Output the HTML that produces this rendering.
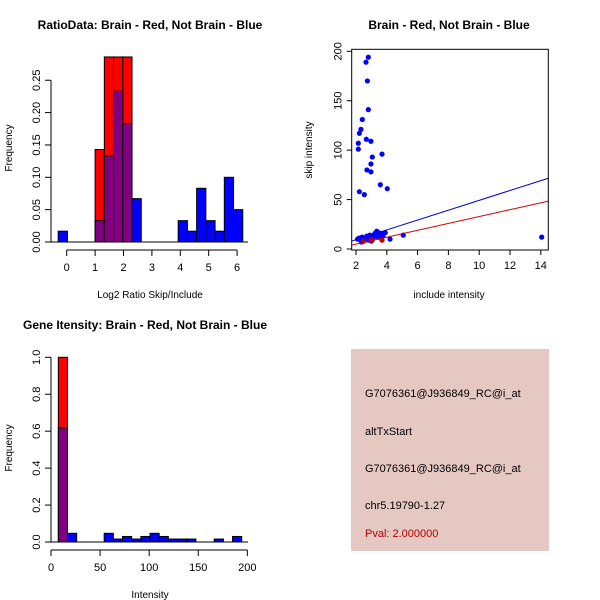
<!DOCTYPE html>
<html><head><meta charset="utf-8"><style>
body{margin:0;background:#fff}
svg{display:block;font-family:"Liberation Sans",sans-serif}
</style></head><body>
<svg id="c" width="600" height="600" viewBox="0 0 600 600">
<rect width="600" height="600" fill="#fff"/>
<g id="p1"></g>
<g id="p2"></g>
<g id="p3"></g>
<g>
<rect x="351" y="349" width="198" height="202" fill="#E6C8C2"/>
<text x="365" y="397" font-size="11" fill="#000">G7076361@J936849_RC@i_at</text>
<text x="365" y="435" font-size="11" fill="#000">altTxStart</text>
<text x="365" y="472" font-size="11" fill="#000">G7076361@J936849_RC@i_at</text>
<text x="365" y="509" font-size="11" fill="#000">chr5.19790-1.27</text>
<text x="365" y="537" font-size="11" fill="#B00000">Pval: 2.000000</text>
</g>
</svg>
<script>
// ---- Panel 1 data ----
const p1BinStart = -0.3, p1BinWidth = 0.325;
const p1RedBins = [4,5,6,7];
const p1RedVals = [0.143,0.286,0.286,0.286];
const p1BlueBins = [0,4,5,6,7,8,13,14,15,16,17,18,19];
const p1BlueVals = [0.0167,0.033,0.133,0.233,0.183,0.067,0.033,0.0167,0.083,0.033,0.0167,0.1,0.05];
const p1XTicks = [0,1,2,3,4,5,6];
const p1YTicks = ["0.00","0.05","0.10","0.15","0.20","0.25"];
// ---- Panel 2 data ----
const p2BlueX = [2.80,2.65,2.74,2.80,2.41,2.32,2.22,2.15,2.15,2.67,2.97,3.06,2.97,3.69,2.71,2.97,3.58,4.03,2.22,2.54,14.06,5.07,4.21,3.9,
 2.1,2.2,2.3,2.4,2.5,2.6,2.7,2.8,2.9,3.0,3.1,3.2,3.3,3.4,3.5,3.6,2.35,2.55,2.75,2.95,3.15,3.35,3.55,3.75,2.85,3.05,3.25,3.45];
const p2BlueY = [194,189,170,141,131,121,117,107,101,111,109,93,86,96,80,78,65,61,58,55,12,14,10,16.5,
 10,11,9,12,8,10,13,9,14,8,11,15,13,17,12,16,7,9,11,12,14,18,15,13,10,9,16,12];
const p2RedX = [3.69,2.5,3.0];
const p2RedY = [9,8,9];
const p2BlueLine = [4.98,-0.57];
const p2RedLine = [3.48,-2.0];
const p2XTicks = [2,4,6,8,10,12,14];
const p2YTicks = [0,50,100,150,200];
// ---- Panel 3 data ----
const p3BinStart = 7.47, p3BinWidth = 9.34;
const p3RedBins = [0];
const p3RedVals = [1.0];
const p3BlueBins = [0,1,5,6,7,8,9,10,11,12,13,14,17,19];
const p3BlueVals = [0.617,0.047,0.047,0.016,0.03,0.016,0.03,0.047,0.03,0.016,0.016,0.016,0.016,0.03];
const p3XTicks = [0,50,100,150,200];
const p3YTicks = ["0.0","0.2","0.4","0.6","0.8","1.0"];

const NS="http://www.w3.org/2000/svg";
function mk(parent,tag,attrs,txt){const e=document.createElementNS(NS,tag);for(const k in attrs)e.setAttribute(k,attrs[k]);if(txt!==undefined)e.textContent=txt;parent.appendChild(e);return e;}

function histogram(g,cfg){
  const {sx,sy,binStart,binWidth,redBins,redVals,blueBins,blueVals,xTicks,yTicks,yTickVals,title,titleX,xlab,ylab,ylabX,xAxisY,yAxisX,xlabY,baseX0,baseX1}=cfg;
  const red={},blue={};
  redBins.forEach((b,i)=>red[b]=redVals[i]);
  blueBins.forEach((b,i)=>blue[b]=blueVals[i]);
  redBins.forEach((b,i)=>{
    const x0=sx(binStart+b*binWidth),x1=sx(binStart+(b+1)*binWidth);
    const r=mk(g,'rect',{x:x0,y:sy(redVals[i]),width:x1-x0,height:sy(0)-sy(redVals[i]),fill:'#FF0000',stroke:'#000','stroke-width':1});
    
    
  });
  blueBins.forEach((b,i)=>{
    const x0=sx(binStart+b*binWidth),x1=sx(binStart+(b+1)*binWidth);
    const v=blueVals[i];
    const both=red[b]!==undefined;
    const r=mk(g,'rect',{x:x0,y:sy(v),width:x1-x0,height:sy(0)-sy(v),fill:(both&&red[b]>=v)?'#800080':'#0000FF',stroke:'#000','stroke-width':1});
    
    
  });
  mk(g,'line',{x1:baseX0,x2:baseX1,y1:sy(0),y2:sy(0),stroke:'#000'});
  // x axis
  mk(g,'line',{x1:sx(xTicks[0]),x2:sx(xTicks[xTicks.length-1]),y1:xAxisY,y2:xAxisY,stroke:'#000'});
  xTicks.forEach(t=>{
    mk(g,'line',{x1:sx(t),x2:sx(t),y1:xAxisY,y2:xAxisY+6,stroke:'#000'});
    const tx=mk(g,'text',{x:sx(t),y:xAxisY+21,'font-size':11,'text-anchor':'middle'},String(t));
    
    
  });
  // y axis
  mk(g,'line',{x1:yAxisX,x2:yAxisX,y1:sy(yTickVals[0]),y2:sy(yTickVals[yTickVals.length-1]),stroke:'#000'});
  yTickVals.forEach((v,i)=>{
    mk(g,'line',{x1:yAxisX,x2:yAxisX-6,y1:sy(v),y2:sy(v),stroke:'#000'});
    const tx=mk(g,'text',{x:yAxisX-11,y:sy(v),'font-size':11,'text-anchor':'middle',transform:`rotate(-90 ${yAxisX-11} ${sy(v)})`},yTicks[i]);
    
    
  });
  const t=mk(g,'text',{x:titleX,y:cfg.titleY,'font-size':12,'font-weight':'bold','text-anchor':'middle'},title);
  
  
  const xl=mk(g,'text',{x:cfg.xlabX,y:xlabY,'font-size':10,'text-anchor':'middle'},xlab);
  
  
  const yl=mk(g,'text',{x:ylabX,y:cfg.ylabY,'font-size':10,'text-anchor':'middle',transform:`rotate(-90 ${ylabX} ${cfg.ylabY})`},ylab);
  
  
}

// Panel 1
histogram(document.getElementById('p1'),{
  sx:v=>66.7+v*28.4, sy:v=>242-v*647,
  binStart:p1BinStart,binWidth:p1BinWidth,redBins:p1RedBins,redVals:p1RedVals,blueBins:p1BlueBins,blueVals:p1BlueVals,
  xTicks:p1XTicks,yTicks:p1YTicks,yTickVals:p1YTicks.map(Number),
  title:'RatioData: Brain - Red, Not Brain - Blue',titleX:150,titleY:29,
  xlab:'Log2 Ratio Skip/Include',xlabX:150,xlabY:298,ylab:'Frequency',ylabX:12,ylabY:148,
  xAxisY:250,yAxisX:51,baseX0:49,baseX1:248
});
// Panel 3
histogram(document.getElementById('p3'),{
  sx:v=>51+v*0.9817, sy:v=>542-v*184.7,
  binStart:p3BinStart,binWidth:p3BinWidth,redBins:p3RedBins,redVals:p3RedVals,blueBins:p3BlueBins,blueVals:p3BlueVals,
  xTicks:p3XTicks,yTicks:p3YTicks,yTickVals:p3YTicks.map(Number),
  title:'Gene Itensity: Brain - Red, Not Brain - Blue',titleX:145,titleY:329,
  xlab:'Intensity',xlabX:150,xlabY:598,ylab:'Frequency',ylabX:12,ylabY:448,
  xAxisY:550,yAxisX:51,baseX0:49,baseX1:248
});

// Panel 2 scatter
(function(){
  const g=document.getElementById('p2');
  const sx=v=>356+(v-2)*15.4, sy=v=>249-v*0.9885;
  const L=351.7,R=548.3,T=49.3,B=250;
  const clipId='clip2';
  const defs=mk(g,'defs',{});const cp=mk(defs,'clipPath',{id:clipId});mk(cp,'rect',{x:L,y:T,width:R-L,height:B-T});
  const pg=mk(g,'g',{'clip-path':`url(#${clipId})`});
  p2BlueX.forEach((x,i)=>{
    const c=mk(pg,'circle',{cx:sx(x),cy:sy(p2BlueY[i]),r:2.6,fill:'#0000FF'});
    
    
  });
  p2RedX.forEach((x,i)=>{
    const c=mk(pg,'circle',{cx:sx(x),cy:sy(p2RedY[i]),r:2.6,fill:'#C00000'});
    
    
  });
  const xa=1.5,xb=15.5;
  const bl=mk(pg,'line',{x1:sx(xa),y1:sy(p2BlueLine[0]*xa+p2BlueLine[1]),x2:sx(xb),y2:sy(p2BlueLine[0]*xb+p2BlueLine[1]),stroke:'#0000CC','stroke-width':1});
  
  
  const rl=mk(pg,'line',{x1:sx(xa),y1:sy(p2RedLine[0]*xa+p2RedLine[1]),x2:sx(xb),y2:sy(p2RedLine[0]*xb+p2RedLine[1]),stroke:'#CC0000','stroke-width':1});
  
  
  mk(g,'rect',{x:L,y:T,width:R-L,height:B-T,fill:'none',stroke:'#000'});
  p2XTicks.forEach(t=>{
    mk(g,'line',{x1:sx(t),x2:sx(t),y1:B,y2:B+5,stroke:'#000'});
    const tx=mk(g,'text',{x:sx(t),y:B+19,'font-size':11,'text-anchor':'middle'},String(t));
    
    
  });
  p2YTicks.forEach(t=>{
    mk(g,'line',{x1:L,x2:L-5,y1:sy(t),y2:sy(t),stroke:'#000'});
    const tx=mk(g,'text',{x:L-10,y:sy(t),'font-size':11,'text-anchor':'middle',transform:`rotate(-90 ${L-10} ${sy(t)})`},String(t));
    
    
  });
  const t=mk(g,'text',{x:449,y:29,'font-size':12,'font-weight':'bold','text-anchor':'middle'},'Brain - Red, Not Brain - Blue');
  
  
  const xl=mk(g,'text',{x:449,y:298,'font-size':10,'text-anchor':'middle'},'include intensity');
  
  
  const yl=mk(g,'text',{x:312,y:150,'font-size':10,'text-anchor':'middle',transform:'rotate(-90 312 150)'},'skip intensity');
  
  
})();
</script>
</body></html>
